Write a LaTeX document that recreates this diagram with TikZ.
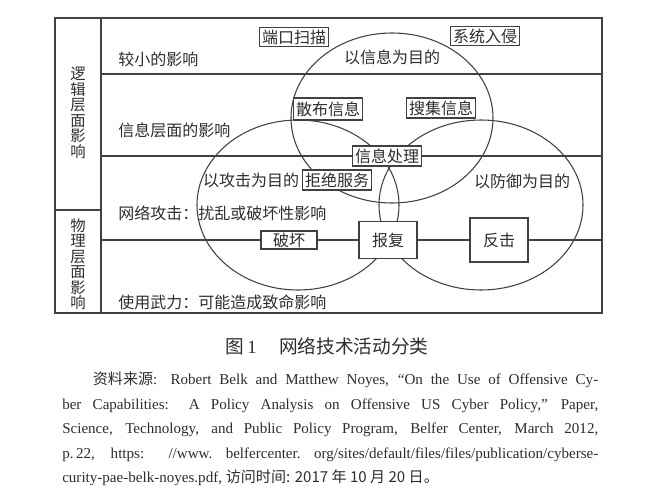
\documentclass[tikz,border=0pt]{standalone}
\usepackage{fontspec}
\setmainfont{Liberation Serif}
\newfontfamily\cjk{Noto Sans CJK SC}
\newfontfamily\srcfont{Liberation Serif}
\usetikzlibrary{positioning}
\definecolor{linecolor}{RGB}{65,65,65}
\definecolor{inkcolor}{RGB}{45,45,45}

\begin{document}
\begin{tikzpicture}[x=0.75pt, y=-0.75pt,
    every node/.style={text=inkcolor},
    frame/.style={draw=linecolor, line width=1.1pt},
    zone/.style={draw=linecolor, line width=0.8pt},
    tag/.style={draw=linecolor, fill=white, line width=1pt, font=\cjk\fontsize{12}{14}\selectfont, inner xsep=2pt, inner ysep=1pt, minimum height=15pt},
    rowlabel/.style={anchor=west, font=\cjk\fontsize{12}{14}\selectfont, inner sep=0pt},
    sidelabel/.style={align=center, font=\cjk\fontsize{11.5}{11.6}\selectfont, inner sep=0pt},
    aim/.style={font=\cjk\fontsize{12}{14}\selectfont, inner sep=0pt}]

    \useasboundingbox (0,0) rectangle (658,497);

    % Frame and rows
    \coordinate (nw) at (55,18);
    \coordinate (se) at (602,313);
    \coordinate (row2w) at (101,156);
    \coordinate (row2e) at (602,156);
    \coordinate (row3w) at (101,240);
    \coordinate (row3e) at (602,240);
    \draw [frame] (nw) rectangle (se);
    \draw [frame] (101,18) -- (101,313);
    \draw [frame] (55,210) -- (101,210);
    \draw [frame] (101,74) -- (602,74);

    % Purpose areas
    \draw [zone] (392,118) ellipse [x radius=101, y radius=85];
    \draw [zone] (298,205) ellipse [x radius=101, y radius=85];
    \draw [zone] (481,205) ellipse [x radius=102, y radius=85];

    % Side and row labels
    \node [sidelabel] (logic) at (78,113) {逻\\辑\\层\\面\\影\\响};
    \node [sidelabel] (physic) at (78,264) {物\\理\\层\\面\\影\\响};
    \node [rowlabel] (minor) at (118,59) {较小的影响};
    \node [rowlabel] (infolevel) at (118,130) {信息层面的影响};
    \node [rowlabel] (cyber) at (118,213) {网络攻击：扰乱或破坏性影响};
    \node [rowlabel] (force) at (118,302) {使用武力：可能造成致命影响};

    % Activities
    \node [aim] (infoaim) at (392,57) {以信息为目的};
    \node [aim] (attackaim) at (251,180) {以攻击为目的};
    \node [aim] (defenceaim) at (522,181) {以防御为目的};
    \node [tag, minimum height=14.25pt] (scan) at (294,37) {端口扫描};
    \node [tag, minimum height=14.25pt] (intrude) at (485,36) {系统入侵};
    \node [tag, minimum height=16.5pt] (spread) at (328,109) {散布信息};
    \node [tag] (collect) at (441,108) {搜集信息};
    \node [tag] (process) at (387,156) {信息处理};
    \node [tag] (deny) at (337,180) {拒绝服务};
    \node [tag, minimum width=42pt, minimum height=13.5pt] (destroy) at (289,240) {破坏};
    \node [tag, minimum width=43.5pt, minimum height=27.75pt] (retaliate) at (388,240) {报复};
    \node [tag, minimum width=43.5pt, minimum height=33pt] (strike) at (499,240) {反击};

    \draw [frame] (row2w) -- (process) -- (row2e);
    \draw [frame] (row3w) -- (destroy) -- (retaliate) -- (strike) -- (row3e);

    % Caption and source
    \node (caption) at (327,346) {\cjk\fontsize{14}{16}\selectfont 图\,{\rmfamily 1}\hspace{1.2em}网络技术活动分类};
    \node [anchor=north west, text width=402pt, align=justify, inner sep=0pt,
           font=\srcfont\fontsize{11.3}{18.3}\selectfont] (source) at (62,372)
      {\hyphenpenalty=10000\tolerance=10000
       \hspace*{23pt}{\cjk 资料来源}: Robert Belk and Matthew Noyes, “On the Use of Offensive Cy-\linebreak
       ber Capabilities: A Policy Analysis on Offensive US Cyber Policy,” Paper,\linebreak
       Science, Technology, and Public Policy Program, Belfer Center, March 2012,\linebreak
       p.\,22, https: //www.\ belfercenter.\ org/sites/default/files/files/publication/cyberse-\linebreak
       curity-pae-belk-noyes.pdf, {\cjk 访问时间: 2017 年 10 月 20 日。}};
\end{tikzpicture}
\end{document}
